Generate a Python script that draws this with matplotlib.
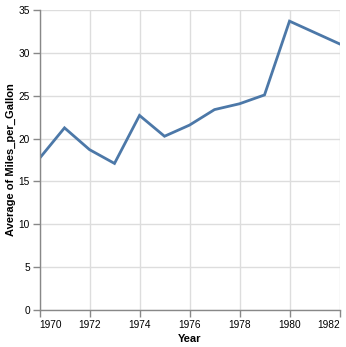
import matplotlib
matplotlib.use("Agg")
import matplotlib.pyplot as plt

# average mpg per model year (1981 has no rows)
years = [1970, 1971, 1972, 1973, 1974, 1975, 1976, 1977, 1978, 1979, 1980, 1982]
mpg = [17.69, 21.25, 18.71, 17.10, 22.70, 20.27, 21.57, 23.38, 24.06, 25.09, 33.70, 31.05]
xticks = [1970, 1972, 1974, 1976, 1978, 1980, 1982]
yticks = [0, 5, 10, 15, 20, 25, 30, 35]

plt.rcParams['font.family'] = ['Liberation Sans', 'DejaVu Sans']

fig = plt.figure(figsize=(3.46, 3.47), dpi=100)
ax = fig.add_axes([39.5 / 346, 37 / 347, 300 / 346, 300 / 347])

ax.plot(years, mpg, color="#4c78a8", linewidth=2, solid_joinstyle="miter")

ax.set_xlim(1970, 1982)
ax.set_ylim(0, 35)
ax.set_xticks(xticks)
ax.set_yticks(yticks)
ax.set_xticklabels([str(t) for t in xticks])
ax.set_yticklabels([str(t) for t in yticks])
labs = ax.get_xticklabels()
labs[0].set_horizontalalignment("left")
labs[-1].set_horizontalalignment("right")

ax.grid(True, color="#dddddd", linewidth=1)
ax.set_axisbelow(True)
for s in ["top", "right"]:
    ax.spines[s].set_visible(False)
for s in ["left", "bottom"]:
    ax.spines[s].set_color("#888888")
    ax.spines[s].set_linewidth(1)
ax.tick_params(colors="#888888", length=5, width=1, labelsize=7.3, labelcolor="#000000", pad=2)

ax.set_xlabel("Year", fontsize=8, fontweight="bold", labelpad=3)
ax.set_ylabel("Average of Miles_per_Gallon", fontsize=8, fontweight="bold", labelpad=2)

plt.savefig("out.png", dpi=100)
